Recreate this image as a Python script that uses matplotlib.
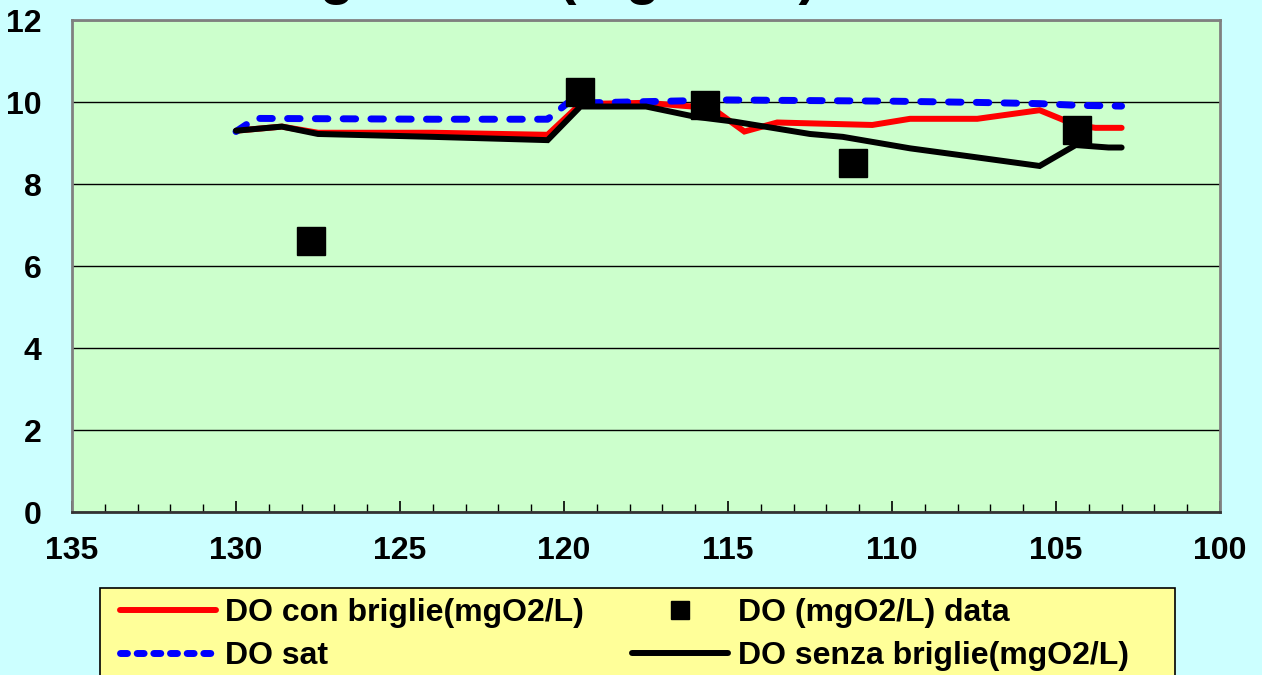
import matplotlib
matplotlib.use("Agg")
import matplotlib.pyplot as plt
from matplotlib.lines import Line2D
from matplotlib.patches import Rectangle

plt.rcParams['font.family'] = ['Liberation Sans', 'DejaVu Sans']
plt.rcParams['font.weight'] = 'bold'

# ---- data ----
km_con = [130.0, 128.6, 127.5, 124.0, 120.5, 119.5, 117.5, 116.1, 115.4, 114.5, 113.5, 110.6, 109.45, 107.4, 105.5, 104.4, 103.8, 103.0]
do_con = [9.30, 9.40, 9.25, 9.25, 9.20, 9.95, 9.98, 9.89, 9.80, 9.28, 9.50, 9.44, 9.59, 9.59, 9.80, 9.44, 9.37, 9.37]

km_senza = [130.0, 128.6, 127.5, 124.0, 120.5, 119.5, 117.5, 116.0, 114.8, 112.5, 111.5, 109.45, 107.6, 105.5, 104.4, 103.4, 103.0]
do_senza = [9.30, 9.40, 9.22, 9.15, 9.07, 9.89, 9.89, 9.64, 9.52, 9.22, 9.15, 8.87, 8.67, 8.44, 8.95, 8.89, 8.89]

km_sat = [130.0, 129.4, 124.0, 120.5, 119.9, 115.0, 110.0, 107.4, 105.5, 104.4, 103.0]
do_sat = [9.28, 9.60, 9.58, 9.58, 9.97, 10.05, 10.02, 9.99, 9.96, 9.92, 9.90]

km_data = [127.7, 119.5, 115.7, 111.2, 104.35]
do_data = [6.61, 10.24, 9.93, 8.51, 9.32]

x_ticks = [135, 130, 125, 120, 115, 110, 105, 100]
y_ticks = [0, 2, 4, 6, 8, 10, 12]

label_con = "DO con briglie(mgO2/L)"
label_data = "DO (mgO2/L) data"
label_sat = "DO sat"
label_senza = "DO senza briglie(mgO2/L)"
title = "DO lungo l'asta (mg O2/L)"

# ---- figure ----
W, H = 1262, 675
fig = plt.figure(figsize=(W/100, H/100), dpi=100, facecolor='#CCFFFF')
ax = fig.add_axes([72/W, 1-512/H, 1148/W, 492/H])
ax.set_facecolor('#CCFFCC')

ax.plot(km_con, do_con, color='#FF0000', lw=4.3, solid_capstyle='round', solid_joinstyle='miter', zorder=3)
ax.plot(km_sat, do_sat, color='#0000FF', lw=5.0, dashes=(1.8, 2.2), dash_capstyle='round', zorder=4)
ax.plot(km_senza, do_senza, color='#000000', lw=4.3, solid_capstyle='round', solid_joinstyle='miter', zorder=5)
ax.plot(km_data, do_data, linestyle='none', marker='s', ms=20, color='black', zorder=6)

ax.set_xlim(135, 100)
ax.set_ylim(0, 12)
ax.set_xticks(x_ticks)
ax.set_xticks(range(100, 136), minor=True)
ax.set_yticks(y_ticks)
ax.grid(axis='y', color='black', lw=1.0, zorder=1)
ax.set_axisbelow(True)

ax.tick_params(axis='x', which='major', direction='in', length=8, width=1.2, pad=17, labelsize=23)
ax.tick_params(axis='x', which='minor', direction='in', length=6, width=1.0)
ax.tick_params(axis='y', which='major', length=0, pad=22, labelsize=23)
for lab in ax.get_xticklabels() + ax.get_yticklabels():
    lab.set_fontweight('bold')

for s in ['top', 'right', 'left']:
    ax.spines[s].set_color('#808080')
    ax.spines[s].set_linewidth(2.0)
ax.spines['bottom'].set_color('#333333')
ax.spines['bottom'].set_linewidth(2.0)

# title: almost entirely above the visible area, as in the reference
fig.text(138/W, 1 + 7/H, title, ha='left', va='baseline', fontsize=40, fontweight='bold')

# legend box
fig.patches.append(Rectangle((100/W, -20/H), 1075/W, (H - 588 + 20)/H, transform=fig.transFigure,
                             facecolor='#FFFF99', edgecolor='black', lw=1.2, zorder=0))

handles = [
    Line2D([], [], color='#FF0000', lw=4.3, solid_capstyle='round'),
    Line2D([], [], color='#0000FF', lw=5.0, dashes=(1.0, 1.4), dash_capstyle='round'),
    Line2D([], [], linestyle='none', marker='s', ms=13, color='black'),
    Line2D([], [], color='#000000', lw=4.3, solid_capstyle='round'),
]
labels = [label_con, label_sat, label_data, label_senza]
leg = fig.legend(handles, labels, ncol=2, loc='upper left',
                 bbox_to_anchor=(120/W, 1 - 598/H),
                 prop={'size': 23, 'weight': 'bold'}, frameon=False,
                 handlelength=3.0, handletextpad=0.3, labelspacing=0.42,
                 borderpad=0, borderaxespad=0, columnspacing=1.5)

fig.savefig('out.png', dpi=100, facecolor=fig.get_facecolor())
